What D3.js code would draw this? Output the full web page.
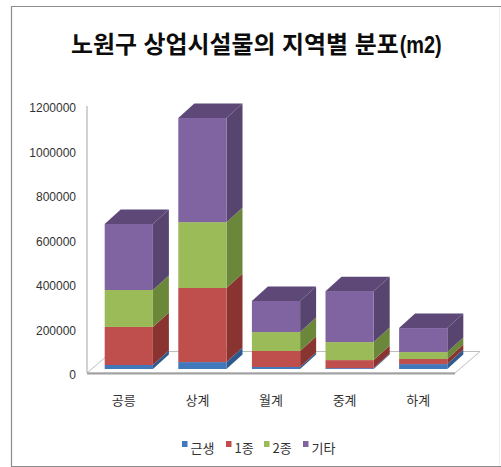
<!DOCTYPE html>
<html><head><meta charset="utf-8">
<script src="https://cdn.jsdelivr.net/npm/d3@7"></script>
<style>html,body{margin:0;padding:0;background:#fff}svg{display:block}
text{font-family:"Liberation Sans","Noto Sans CJK KR",sans-serif}</style></head>
<body><div id="c"></div>
<script>
const title = "노원구 상업시설물의 지역별 분포";
const titleUnit = "(m2)";
const categories = ["공릉","상계","월계","중계","하계"];
const seriesNames = ["근생","1종","2종","기타"];
const geunsaeng = [18000,31000,9000,4000,22000];
const type1 = [171000,333000,72000,36000,23000];
const type2 = [166000,296000,85000,81000,31000];
const other = [297000,468000,140000,229000,108000];
const yTicks = [0,200000,400000,600000,800000,1000000,1200000];
const frontColors = ["#4178bc","#be4f4c","#9bbb59","#8064a2"];
const sideColors = ["#2f5a8e","#8a3432","#6b873a","#574570"];
const topColor = "#5d4878";

const W=501,H=467;
const svg=d3.select("#c").append("svg").attr("width",W).attr("height",H);
const rows=categories.map((c,i)=>({cat:c,"근생":geunsaeng[i],"1종":type1[i],"2종":type2[i],"기타":other[i]}));
const stacked=d3.stack().keys(seriesNames)(rows);

const x=d3.scaleBand().domain(categories).range([87,455]).paddingInner(0.345).paddingOuter(0.1725);
const y=d3.scaleLinear().domain([0,1200000]).range([373,106]);
const dx=16,dy=14.5,barShiftX=5,barShiftY=-4,floorDx=25,floorDy=21.5;

// frame
const frame=svg.append("g").attr("fill","none");
frame.append("path").attr("d","M499.5,6V466").attr("stroke","#ececec");
frame.append("path").attr("d","M501,6.5H11.5V466.5H501").attr("stroke","#8c8c8c").attr("stroke-width",1.2);

// title
const tt=svg.append("text").attr("x",71).attr("y",53)
  .attr("font-size",23.9).attr("font-weight",700).attr("fill","#0c0c0c");
tt.append("tspan").text(title);
tt.append("tspan").attr("font-size",24).attr("dx",1).attr("textLength",42).attr("lengthAdjust","spacingAndGlyphs").text(titleUnit);

// floor
const fy=y(0);
svg.append("path").attr("d",`M87,${fy}L${87+floorDx},${fy-floorDy}H${455+floorDx}L455,${fy}Z`)
  .attr("fill","#fff").attr("stroke","#bdbdbd").attr("stroke-width",1);
svg.append("line").attr("x1",87).attr("x2",455).attr("y1",fy+0.5).attr("y2",fy+0.5)
  .attr("stroke","#a0a0a0").attr("stroke-width",1.8);
svg.append("line").attr("x1",87).attr("x2",87).attr("y1",y(1200000)).attr("y2",fy)
  .attr("stroke","#b4b4b4").attr("stroke-width",1.2);

// value axis
const yAxis=d3.axisLeft(y).tickValues(yTicks).tickSize(0).tickPadding(11).tickFormat(d3.format("d"));
const ga=svg.append("g").attr("transform","translate(87,2)").call(yAxis);
ga.select(".domain").remove();
ga.selectAll("text").attr("font-size",12).attr("fill","#333").style("font-family",'"Liberation Sans",sans-serif');

// category axis
const xAxis=d3.axisBottom(x).tickSize(0).tickPadding(23);
const gx=svg.append("g").attr("transform",`translate(0,${fy})`).call(xAxis);
gx.select(".domain").remove();
gx.selectAll("text").attr("font-size",13).attr("fill","#333").style("font-family",'"Noto Sans CJK KR",sans-serif');

// 3D stacked bars
const gb=svg.append("g").attr("transform",`translate(${barShiftX},${barShiftY})`);
categories.forEach((c,ci)=>{
  const bx=x(c),bw=x.bandwidth();
  stacked.forEach((s,si)=>{
    const y0=y(s[ci][0]),y1=y(s[ci][1]);
    gb.append("path").attr("d",`M${bx+bw},${y0}L${bx+bw+dx},${y0-dy}V${y1-dy}L${bx+bw},${y1}Z`).attr("fill",sideColors[si]);
    gb.append("rect").attr("x",bx).attr("y",y1).attr("width",bw).attr("height",y0-y1).attr("fill",frontColors[si]);
  });
  const t=y(stacked[3][ci][1]);
  gb.append("path").attr("d",`M${bx},${t}L${bx+dx},${t-dy}H${bx+bw+dx}L${bx+bw},${t}Z`).attr("fill",topColor);
});

// legend
const legendX=d3.scaleOrdinal().domain(seriesNames).range([182,226,264,303]);
const lg=svg.append("g");
seriesNames.forEach((n,i)=>{
  lg.append("rect").attr("x",legendX(n)).attr("y",441).attr("width",5.5).attr("height",6).attr("fill",frontColors[i]);
  lg.append("text").attr("x",legendX(n)+8.5).attr("y",453).attr("font-size",13).attr("fill","#333")
    .style("font-family",'"Noto Sans CJK KR",sans-serif').text(n);
});
</script></body></html>
